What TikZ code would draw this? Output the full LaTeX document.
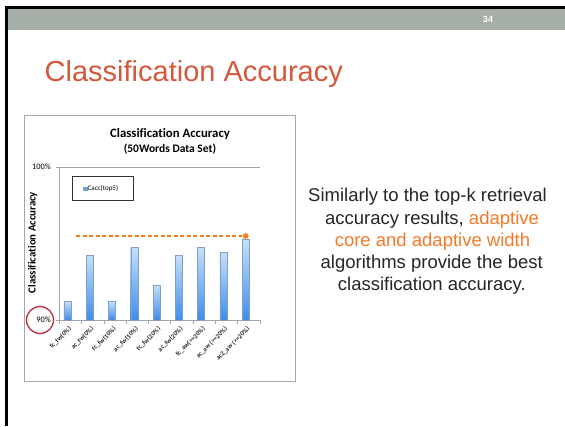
\documentclass[tikz,border=0pt]{standalone}
\usepackage{fontspec}
\setmainfont{Liberation Sans}
\newfontfamily\chartfont[Ligatures={NoCommon}]{Carlito}
\usetikzlibrary{shapes.geometric}
\definecolor{headgray}{RGB}{166,174,168}
\definecolor{titlered}{RGB}{212,88,60}
\definecolor{bodytext}{RGB}{38,38,38}
\definecolor{hiorange}{RGB}{244,121,40}
\definecolor{boxgray}{RGB}{160,168,168}
\definecolor{axisgray}{RGB}{165,165,165}
\definecolor{bartop}{RGB}{198,224,250}
\definecolor{barbot}{RGB}{62,140,235}
\definecolor{baredge}{RGB}{130,160,195}
\definecolor{ringred}{RGB}{190,45,60}
\definecolor{dashorange}{RGB}{245,125,30}
\tikzset{
  bodyline/.style={anchor=base, font=\fontsize{18.5}{22}\selectfont, text=bodytext, inner sep=0pt},
  barbox/.style={draw=baredge, line width=0.4pt, top color=bartop, bottom color=barbot},
  ticklabel/.style={anchor=east, rotate=45, font=\chartfont\bfseries\fontsize{6.6}{7}\selectfont, text=black!85, inner sep=0pt},
  axisline/.style={draw=axisgray, line width=0.7pt},
}
\begin{document}
\begin{tikzpicture}[x=1pt,y=-1pt]
\useasboundingbox (0,0) rectangle (565,426);
\fill[white] (0,0) rectangle (565,426);
% slide frame and header band
\fill[headgray] (8,9) rectangle (565,30);
\fill[black] (5,6) rectangle (565,9);
\fill[black] (5,6) rectangle (8,426);
\node[font=\bfseries\fontsize{9}{10}\selectfont, text=white] (pagenum) at (488,19) {34};
% slide title
\node[anchor=base west, inner sep=0pt, font=\fontsize{29}{32}\selectfont, text=titlered] (title) at (44.5,81.7) {Classification Accuracy};
% chart frame
\draw[boxgray, line width=0.8pt] (24,115) rectangle (295,381);
\node[anchor=base, inner sep=0pt, font=\chartfont\bfseries\fontsize{12.8}{14}\selectfont] (ctitle) at (170,137.3) {Classification Accuracy};
\node[anchor=base, inner sep=0pt, font=\chartfont\bfseries\fontsize{11.5}{13}\selectfont] (csub) at (170,152.7) {(50Words Data Set)};
\node[rotate=90, inner sep=0pt, font=\chartfont\bfseries\fontsize{10.8}{12}\selectfont] (ylab) at (32.7,242.5) {Classification Accuracy};
% axes
\draw[axisline] (56,167) -- (260,167);
\draw[axisline] (59.3,167) -- (59.3,320);
\draw[axisline] (56,320) -- (260,320);
\foreach \i in {0,...,9} {
  \draw[axisline] (59.3+\i*22.3,320) -- (59.3+\i*22.3,323.5);
}
\node[anchor=east, inner sep=0pt, font=\chartfont\fontsize{8.3}{9}\selectfont] (y100) at (51,167) {100\%};
\node[anchor=east, inner sep=0pt, font=\chartfont\fontsize{8.3}{9}\selectfont] (y90) at (51,320) {90\%};
\draw[ringred, line width=1.3pt] (40,320) circle (13.5);
% legend
\draw[black!80, line width=0.8pt] (72.7,176.7) rectangle (133.3,200.7);
\fill[barbot!80!white, draw=baredge, line width=0.3pt] (83.3,187) rectangle (86.7,190.5);
\node[anchor=west, inner sep=0pt, font=\chartfont\fontsize{7}{8}\selectfont] (legtext) at (87.5,188.7) {Cacc(top5)};
% bars
\foreach \i/\top/\lab in {0/301/{fc\_fw(0\%)},1/255/{ac\_fw(0\%)},2/301/{fc\_fw(10\%)},3/247/{ac\_fw(10\%)},4/285/{fc\_fw(20\%)},5/255/{ac\_fw(20\%)},6/247/{fc\_aw(>=20\%)},7/252/{ac\_aw (>=20\%)},8/239.3/{ac2\_aw (>=20\%)}} {
  \pgfmathsetmacro{\cx}{59.3+\i*22.3+8}
  \path[barbox] (\cx-3.5,\top) rectangle (\cx+3.5,320);
  \node[ticklabel] (lab\i) at (\cx+3,328) {\lab};
}
% best-result marker and guide line
\node[star, star points=8, star point ratio=1.6, fill=dashorange, inner sep=0pt, minimum size=7pt] (best) at (245.7,236) {};
\coordinate (dstart) at (76,236);
\draw[dashorange, line width=1.2pt, dash pattern=on 4pt off 2.5pt] (dstart) -- (best);
% explanatory text
\node[bodyline] (l1) at (427.5,201.7) {Similarly to the top-k retrieval};
\node[bodyline] (l2) at (432,224) {accuracy results, \textcolor{hiorange}{adaptive}};
\node[bodyline, text=hiorange] (l3) at (432.5,246.3) {core and adaptive width};
\node[bodyline] (l4) at (431.7,268.5) {algorithms provide the best};
\node[bodyline] (l5) at (431.8,290.7) {classification accuracy.};
\end{tikzpicture}
\end{document}
